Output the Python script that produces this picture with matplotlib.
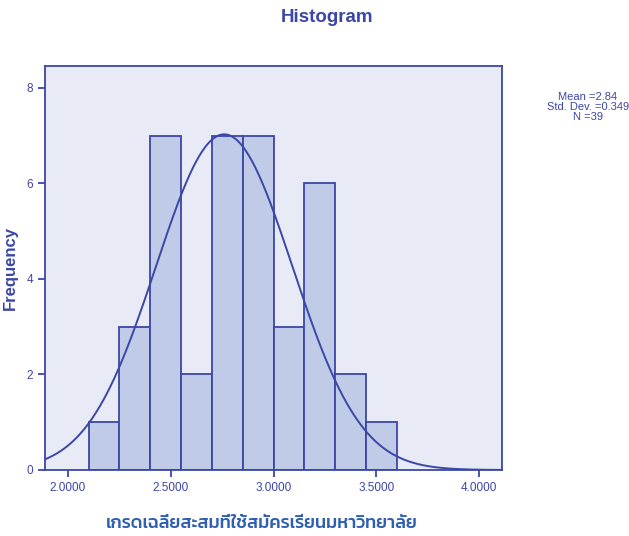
import os
import numpy as np
import matplotlib
matplotlib.use("Agg")
import matplotlib.pyplot as plt
from matplotlib import font_manager

# histogram bins (GPA) and counts
bin_edges = [2.10, 2.25, 2.40, 2.55, 2.70, 2.85, 3.00, 3.15, 3.30, 3.45, 3.60]
counts = [1, 3, 7, 2, 7, 7, 3, 6, 2, 1]
x_ticks = [2.0, 2.5, 3.0, 3.5, 4.0]
x_tick_labels = ["2.0000", "2.5000", "3.0000", "3.5000", "4.0000"]
y_ticks = [0, 2, 4, 6, 8]

# normal curve as drawn
curve_mean = 2.76
curve_sd = 0.332
stats_text = ["Mean =2.84", "Std. Dev. =0.349", "N =39"]

xlabel = "เกรดเฉลี่ยสะสมที่ใช้สมัครเรียนมหาวิทยาลัย"

blue = "#3c46a6"
fill = "#bfcbe7"
bg = "#e8ebf6"

plt.rcParams["font.family"] = ["Liberation Sans", "DejaVu Sans"]

# look for a font with Thai glyphs
thai_font = None
wanted = ["Kanit-Medium.ttf", "Kanit-Regular.ttf", "Prompt-Medium.ttf",
          "Prompt-Regular.ttf", "IBMPlexSansThai-Medium.ttf"]
all_fonts = font_manager.findSystemFonts()
for name in wanted:
    hits = [p for p in all_fonts if os.path.basename(p) == name]
    if hits:
        thai_font = font_manager.FontProperties(fname=hits[0], size=13)
        break
if thai_font is None:
    thai_font = font_manager.FontProperties(size=13)

fig = plt.figure(figsize=(6.29, 5.36), dpi=100)
ax = fig.add_axes([45 / 629, 66 / 536, 457 / 629, 404 / 536])
ax.set_facecolor(bg)

widths = np.diff(bin_edges)
ax.bar(bin_edges[:-1], counts, width=widths, align="edge",
       color=fill, edgecolor=blue, linewidth=1.3, zorder=2)

n = sum(counts)
binw = widths[0]
xs = np.linspace(1.85, 4.15, 400)
ys = n * binw * np.exp(-0.5 * ((xs - curve_mean) / curve_sd) ** 2) / (curve_sd * np.sqrt(2 * np.pi))
ax.plot(xs, ys, color=blue, linewidth=1.4, zorder=3)

ax.set_xlim(1.888, 4.112)
ax.set_ylim(0, 8.46)
ax.set_xticks(x_ticks)
ax.set_xticklabels(x_tick_labels)
ax.set_yticks(y_ticks)
ax.tick_params(direction="out", length=5, width=1.3, color=blue,
               labelcolor=blue, labelsize=8.5)
for sp in ax.spines.values():
    sp.set_color(blue)
    sp.set_linewidth(1.3)

ax.set_ylabel("Frequency", color=blue, fontsize=12, fontweight="bold", labelpad=6)

fig.text(327 / 629, 1 - 18 / 536, "Histogram", color=blue, fontsize=13.5,
         fontweight="bold", ha="center", va="center")
fig.text(588 / 629, 1 - 107 / 536, "\n".join(stats_text), color=blue,
         fontsize=8, ha="center", va="center", linespacing=1.0)
fig.text(262 / 629, 1 - 523 / 536, xlabel, color="#2f5fb0",
         fontproperties=thai_font, ha="center", va="center")

fig.savefig("out.png")
